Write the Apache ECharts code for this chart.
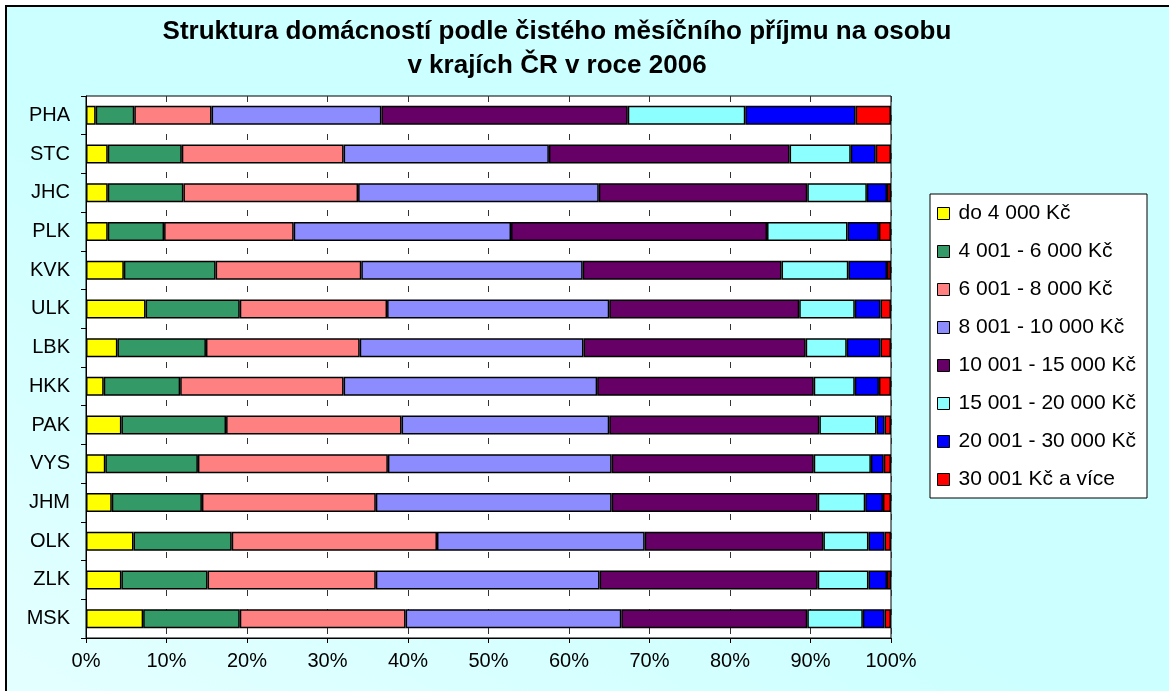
<!DOCTYPE html>
<html>
<head>
<meta charset="utf-8">
<title>Struktura domácností</title>
<script src="https://cdn.jsdelivr.net/npm/echarts@6/dist/echarts.min.js"></script>
<style>
    html, body { margin: 0; padding: 0; background: #fff; overflow: hidden; }
    #frame {
        position: absolute; left: 5px; top: 5px; width: 1200px; height: 720px;
        border-left: 2px solid #000; border-top: 2px solid #000;
        background: linear-gradient(30deg, #e6ffff 0%, #ccffff 45%, #ccffff 100%);
    }
    #chart { position: absolute; left: 0; top: 0; width: 1169px; height: 691px; }
</style>
</head>
<body>
<div id="frame"></div>
<div id="chart"></div>
<script>
    // kraje (shora dolu)
    var kraje = ['PHA', 'STC', 'JHC', 'PLK', 'KVK', 'ULK', 'LBK', 'HKK', 'PAK', 'VYS', 'JHM', 'OLK', 'ZLK', 'MSK'];

    // podily domacnosti v % podle prijmu na osobu
    var do4000   = [1.2, 2.7, 2.7, 2.7, 4.7, 7.4, 3.9, 2.2, 4.4, 2.4, 3.2, 5.9, 4.4, 7.1];
    var do6000   = [4.8, 9.2, 9.4, 7.0, 11.4, 11.7, 11.0, 9.5, 13.0, 11.5, 11.2, 12.2, 10.7, 12.0];
    var do8000   = [9.6, 20.1, 21.7, 16.1, 18.1, 18.3, 19.1, 20.3, 21.8, 23.6, 21.6, 25.5, 20.9, 20.6];
    var do10000  = [21.1, 25.5, 29.9, 27.0, 27.5, 27.6, 27.8, 31.5, 25.8, 27.8, 29.3, 25.8, 27.8, 26.8];
    var do15000  = [30.6, 29.9, 25.9, 31.8, 24.7, 23.6, 27.6, 26.9, 26.1, 25.1, 25.6, 22.2, 27.1, 23.1];
    var do20000  = [14.6, 7.6, 7.4, 10.0, 8.3, 6.9, 5.1, 5.1, 7.1, 7.1, 5.9, 5.6, 6.3, 6.9];
    var do30000  = [13.7, 3.1, 2.5, 3.9, 4.8, 3.2, 4.2, 3.0, 1.0, 1.6, 2.2, 2.0, 2.3, 2.7];
    var nad30000 = [4.4, 1.9, 0.5, 1.5, 0.5, 1.3, 1.3, 1.5, 0.8, 0.9, 1.0, 0.8, 0.5, 0.8];

    var pasma = ['do 4 000 Kč', '4 001 - 6 000 Kč', '6 001 - 8 000 Kč', '8 001 - 10 000 Kč',
                 '10 001 - 15 000 Kč', '15 001 - 20 000 Kč', '20 001 - 30 000 Kč', '30 001 Kč a více'];
    var hodnoty = [do4000, do6000, do8000, do10000, do15000, do20000, do30000, nad30000];
    var barvy = ['#ffff00', '#339966', '#ff8080', '#8c8cff', '#660066', '#8cffff', '#0000ff', '#ff0000'];

    var myChart = echarts.init(document.getElementById('chart'));

    var series = pasma.map(function (nazev, i) {
        return {
            name: nazev,
            type: 'bar',
            stack: 'celkem',
            barWidth: 19,
            data: hodnoty[i],
            itemStyle: { color: barvy[i], borderColor: '#000', borderWidth: 1.5 }
        };
    });

    var option = {
        backgroundColor: 'transparent',
        textStyle: { fontFamily: 'Liberation Sans, Arial, sans-serif' },
        title: {
            text: 'Struktura domácností podle čistého měsíčního příjmu na osobu\nv krajích ČR v roce 2006',
            left: 552,
            top: 10,
            textAlign: 'center',
            textStyle: { fontSize: 26, fontWeight: 'bold', color: '#000', lineHeight: 34, align: 'center' }
        },
        graphic: [{
            type: 'rect',
            shape: { x: 930, y: 194, width: 217, height: 304 },
            style: { fill: '#fff', stroke: '#000', lineWidth: 1 },
            z: -1
        }],
        legend: {
            orient: 'vertical',
            left: 937,
            top: 203,
            padding: 0,
            itemWidth: 12,
            itemHeight: 12,
            itemGap: 17,
            icon: 'rect',
            itemStyle: { borderColor: '#000', borderWidth: 1 },
            textStyle: { fontSize: 21, color: '#000', lineHeight: 20, padding: [0, 0, 0, 4] },
            data: pasma
        },
        grid: {
            left: 86,
            right: 278,
            top: 96,
            bottom: 53,
            show: true,
            backgroundColor: '#fff',
            borderColor: '#000',
            borderWidth: 1
        },
        xAxis: {
            type: 'value',
            min: 0,
            max: 100,
            interval: 10,
            axisLine: { show: true, lineStyle: { color: '#000', width: 1 } },
            axisTick: { show: true, length: 5, lineStyle: { color: '#000' } },
            axisLabel: { formatter: '{value}%', fontSize: 20, color: '#000', margin: 13 },
            splitLine: { show: true, lineStyle: { color: '#333', type: [6, 13], width: 1 } }
        },
        yAxis: {
            type: 'category',
            inverse: true,
            data: kraje,
            axisLine: { show: true, lineStyle: { color: '#000', width: 1 } },
            axisTick: { show: true, length: 5, lineStyle: { color: '#000' } },
            axisLabel: { fontSize: 20, color: '#000', margin: 16 }
        },
        series: series
    };

    myChart.setOption(option);
</script>
</body>
</html>
